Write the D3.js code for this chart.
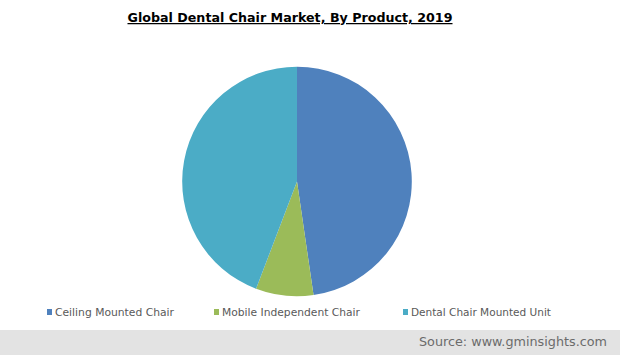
<!DOCTYPE html>
<html><head><meta charset="utf-8">
<script src="https://cdn.jsdelivr.net/npm/d3@7"></script>
<style>body{margin:0;background:#fff;}svg{display:block;}</style>
</head><body>
<svg id="c" width="620" height="355"></svg>
<script>
const categories = ["Ceiling Mounted Chair", "Mobile Independent Chair", "Dental Chair Mounted Unit"];
const shares = [47.7, 8.1, 44.2];
const colors = ["#4f81bd", "#9bbb59", "#4bacc6"];
const titleText = "Global Dental Chair Market, By Product, 2019";
const sourceText = "Source: www.gminsights.com";

const svg = d3.select("#c");
const W = 620, H = 355;

// footer band
svg.append("rect").attr("x", 0).attr("y", 330).attr("width", W).attr("height", H - 330).attr("fill", "#e3e3e3");
svg.append("text").attr("x", 607).attr("y", 346).attr("text-anchor", "end")
  .attr("font-family", "DejaVu Sans, Verdana, sans-serif").attr("font-size", 12.5).attr("fill", "#6b6b6b")
  .attr("textLength", 188).attr("lengthAdjust", "spacingAndGlyphs")
  .text(sourceText);

// title
const t = svg.append("text").attr("x", 290).attr("y", 22).attr("text-anchor", "middle")
  .attr("font-family", "DejaVu Sans, Verdana, sans-serif").attr("font-weight", "bold").attr("font-size", 12.5)
  .attr("fill", "#000").attr("text-decoration", "underline")
  .attr("textLength", 325).attr("lengthAdjust", "spacingAndGlyphs")
  .text(titleText);

// pie
const cx = 297, cy = 181.5, r = 114.8;
const pie = d3.pie().sort(null).value(d => d)(shares);
const arc = d3.arc().innerRadius(0).outerRadius(r);
const g = svg.append("g").attr("transform", `translate(${cx},${cy})`);
g.selectAll("path").data(pie).join("path")
  .attr("d", arc).attr("fill", (d, i) => colors[i]);

// legend
const legX = [47, 214, 403];
const legW = [119, 138, 140];
const lg = svg.append("g");
categories.forEach((c, i) => {
  lg.append("rect").attr("x", legX[i]).attr("y", 309).attr("width", 5).attr("height", 6).attr("fill", colors[i]);
  lg.append("text").attr("x", legX[i] + 8).attr("y", 316)
    .attr("font-family", "DejaVu Sans, Verdana, sans-serif").attr("font-size", 11).attr("fill", "#595959")
    .attr("textLength", legW[i]).attr("lengthAdjust", "spacingAndGlyphs")
    .text(c);
});
</script>
</body></html>
